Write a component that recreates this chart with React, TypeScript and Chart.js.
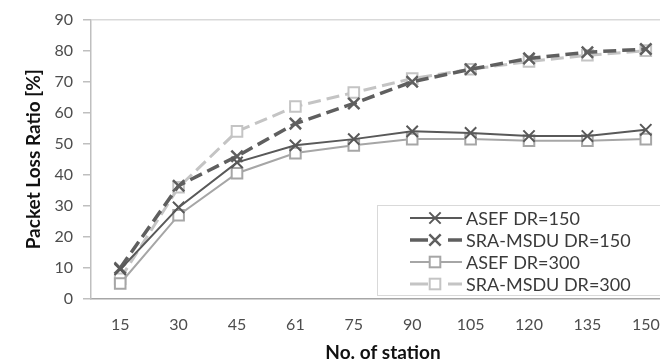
import React, { useEffect, useRef } from "react";
import { Chart, registerables } from "chart.js";

Chart.register(...registerables);

const stations = ["15", "30", "45", "61", "75", "90", "105", "120", "135", "150"];
const asef150 = [9.5, 29.5, 44, 49.5, 51.5, 54, 53.5, 52.5, 52.5, 54.5];
const sra150 = [10, 36.5, 46, 56.5, 63, 70, 74, 77.5, 79.5, 80.5];
const asef300 = [5, 27, 40.5, 47, 49.5, 51.5, 51.5, 51, 51, 51.5];
const sra300 = [6.5, 36, 54, 62, 66.5, 71, 74, 76.5, 78.5, 80];
const seriesLabels = ["ASEF DR=150", "SRA-MSDU DR=150", "ASEF DR=300", "SRA-MSDU DR=300"];
const yTitle = "Packet Loss Ratio [%]";
const xTitle = "No. of station";

const FONT = "Lato, 'Open Sans', sans-serif";

const legendPlugin = {
  id: "boxLegend",
  afterDraw(chart: any) {
    const ctx = chart.ctx;
    const bx = 377, by = 205, bw = 320, bh = 90;
    ctx.save();
    ctx.fillStyle = "#ffffff";
    ctx.fillRect(bx, by, bw, bh);
    ctx.strokeStyle = "#d9d9d9";
    ctx.lineWidth = 1;
    ctx.strokeRect(bx + 0.5, by + 0.5, bw, bh);
    chart.data.datasets.forEach((ds: any, i: number) => {
      const y = 218 + i * 22;
      const x0 = 410, x1 = 462, xm = 435;
      ctx.strokeStyle = ds.borderColor;
      ctx.lineWidth = ds.borderWidth;
      ctx.setLineDash([]);
      ctx.beginPath();
      if (ds.borderDash && ds.borderDash.length) {
        ctx.moveTo(x0, y); ctx.lineTo(428, y);
        ctx.moveTo(448, y); ctx.lineTo(x1, y);
      } else {
        ctx.moveTo(x0, y); ctx.lineTo(x1, y);
      }
      ctx.stroke();
      ctx.lineWidth = ds.pointBorderWidth;
      ctx.strokeStyle = ds.pointBorderColor;
      if (ds.pointStyle === "rect") {
        const s = ds.pointRadius * Math.SQRT1_2;
        ctx.fillStyle = ds.pointBackgroundColor;
        ctx.fillRect(xm - s, y - s, 2 * s, 2 * s);
        ctx.strokeRect(xm - s, y - s, 2 * s, 2 * s);
      } else {
        const s = ds.pointRadius * Math.SQRT1_2;
        ctx.beginPath();
        ctx.moveTo(xm - s, y - s); ctx.lineTo(xm + s, y + s);
        ctx.moveTo(xm - s, y + s); ctx.lineTo(xm + s, y - s);
        ctx.stroke();
      }
      ctx.fillStyle = "#3a3a3a";
      ctx.font = `18px ${FONT}`;
      ctx.textBaseline = "middle";
      ctx.textAlign = "left";
      ctx.fillText(ds.label, 466, y + 1);
    });
    ctx.restore();
  },
};

export default function App() {
  const ref = useRef<HTMLCanvasElement>(null);
  useEffect(() => {
    const canvas = ref.current!;
    const dark = "#595959";
    const light1 = "#a6a6a6";
    const light2 = "#c4c4c4";
    const chart = new Chart(canvas, {
      type: "line",
      data: {
        labels: stations,
        datasets: [
          {
            label: seriesLabels[0], data: asef150,
            borderColor: dark, borderWidth: 2, borderDash: [],
            pointStyle: "crossRot", pointRadius: 8, pointBorderWidth: 2,
            pointBorderColor: dark, pointBackgroundColor: dark, tension: 0,
          },
          {
            label: seriesLabels[1], data: sra150,
            borderColor: "#5f5f5f", borderWidth: 3.5, borderDash: [13, 6],
            pointStyle: "crossRot", pointRadius: 8, pointBorderWidth: 2.5,
            pointBorderColor: "#5f5f5f", pointBackgroundColor: "#5f5f5f", tension: 0,
          },
          {
            label: seriesLabels[2], data: asef300,
            borderColor: light1, borderWidth: 2, borderDash: [],
            pointStyle: "rect", pointRadius: 7.5, pointBorderWidth: 2,
            pointBorderColor: light1, pointBackgroundColor: "#ffffff", tension: 0,
          },
          {
            label: seriesLabels[3], data: sra300,
            borderColor: light2, borderWidth: 3, borderDash: [13, 6],
            pointStyle: "rect", pointRadius: 7.5, pointBorderWidth: 2,
            pointBorderColor: light2, pointBackgroundColor: "#ffffff", tension: 0,
          },
        ],
      },
      options: {
        responsive: false,
        maintainAspectRatio: false,
        devicePixelRatio: 1,
        animation: false,
        layout: { padding: { top: 17.5, right: 15, bottom: 0, left: 0 } },
        plugins: {
          legend: { display: false },
          tooltip: { enabled: false },
        },
        scales: {
          x: {
            offset: true,
            grid: { display: false, drawTicks: false },
            border: { display: true, color: "#a6a6a6", width: 1.5 },
            ticks: { font: { family: FONT, size: 16 }, color: "#4d4d4d", padding: 16, maxRotation: 0 },
            title: {
              display: true, text: xTitle, color: "#111111",
              font: { family: FONT, size: 19, weight: "bold", lineHeight: 1.2 },
              padding: { top: 0, bottom: 0 },
            },
            afterFit: (s: any) => { s.height = 65; },
          },
          y: {
            min: 0, max: 90,
            ticks: { stepSize: 10, font: { family: FONT, size: 16 }, color: "#4d4d4d", padding: 10 },
            grid: {
              color: (c: any) => (c.tick && c.tick.value === 90 ? "#d9d9d9" : "rgba(0,0,0,0)"),
              tickColor: "#bfbfbf", tickLength: 8, lineWidth: 1.5,
            },
            border: { display: true, color: "#bfbfbf", width: 1.5 },
            title: {
              display: true, text: yTitle, color: "#111111",
              font: { family: FONT, size: 19, weight: "bold", lineHeight: 1.2 },
              padding: { top: 22, bottom: 0 },
            },
            afterFit: (s: any) => { s.width = 91; },
          },
        },
      } as any,
      plugins: [legendPlugin],
    });
    return () => chart.destroy();
  }, []);
  return (
    <div style={{ position: "fixed", left: 0, top: 0, width: 660, height: 364, overflow: "hidden", background: "#fff" }}>
      <canvas ref={ref} width={690} height={364} style={{ display: "block" }} />
    </div>
  );
}
